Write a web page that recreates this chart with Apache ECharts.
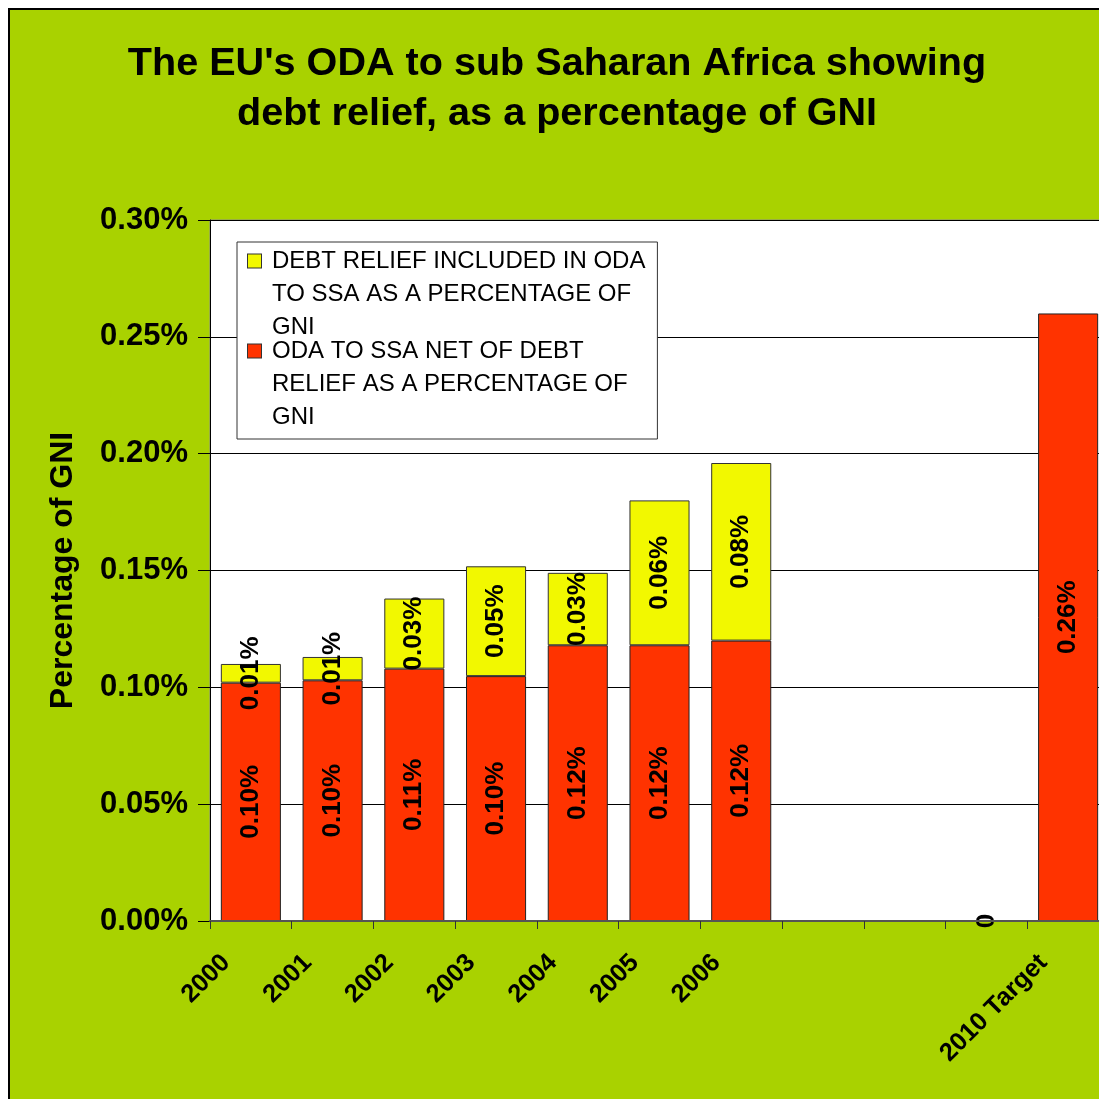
<!DOCTYPE html>
<html>
<head>
<meta charset="utf-8">
<script src="https://cdn.jsdelivr.net/npm/echarts@6/dist/echarts.min.js"></script>
<style>
html,body{margin:0;padding:0;background:#fff;}
#c{width:1099px;height:1099px;}
</style>
</head>
<body>
<div id="c"></div>
<script>
// ---- data ----
const categories = ['2000','2001','2002','2003','2004','2005','2006','','','','2010 Target'];
const odaNetOfDebt = [0.102, 0.103, 0.108, 0.1048, 0.118, 0.118, 0.120, null, null, 0, 0.260];
const debtRelief   = [0.008, 0.010, 0.030, 0.047, 0.031, 0.062, 0.076, null, null, null, null];
const yTicks = [0, 0.05, 0.10, 0.15, 0.20, 0.25, 0.30];
const titleText = "The EU's ODA to sub Saharan Africa showing\ndebt relief, as a percentage of GNI";
const yAxisTitle = 'Percentage of GNI';
const NAME_DEBT = 'DEBT RELIEF INCLUDED IN ODA TO SSA AS A PERCENTAGE OF GNI';
const NAME_NET = 'ODA TO SSA NET OF DEBT RELIEF AS A PERCENTAGE OF GNI';
const legendLines = {};
legendLines[NAME_DEBT] = ['DEBT RELIEF INCLUDED IN ODA', 'TO SSA AS A PERCENTAGE OF', 'GNI'];
legendLines[NAME_NET] = ['ODA TO SSA NET OF DEBT', 'RELIEF AS A PERCENTAGE OF', 'GNI'];

const FONT = '"Liberation Sans", Arial, sans-serif';
const GREEN = '#A9D200';
const RED = '#FF3300';
const YELLOW = '#F2F800';

function pct(v){ return v.toFixed(2) + '%'; }
function labelFmt(p){
  if (p.value === null || p.value === undefined || p.value === '-') return '';
  if (p.value === 0) return '0';
  return pct(p.value);
}

const chart = echarts.init(document.getElementById('c'), null, {renderer:'canvas'});
const option = {
  animation: false,
  backgroundColor: '#fff',
  graphic: [{
    type: 'rect', z: -10, silent: true,
    shape: {x: 9, y: 9, width: 1200, height: 1200},
    style: {fill: GREEN, stroke: '#000', lineWidth: 2}
  }],
  title: {
    text: titleText,
    left: 557, top: 39, textAlign: 'center',
    padding: 0,
    textStyle: {fontFamily: FONT, fontWeight: 'bold', fontSize: 39.6, lineHeight: 50, color: '#000'}
  },
  legend: {
    orient: 'vertical',
    left: 237, top: 242,
    padding: [7, 12, 10, 5],
    itemGap: 0,
    itemWidth: 0, itemHeight: 0,
    icon: 'rect',
    backgroundColor: '#fff',
    borderColor: '#333', borderWidth: 1,
    data: [NAME_DEBT, NAME_NET],
    formatter: function(name){
      const lines = legendLines[name];
      const m = name === NAME_DEBT ? 'my' : 'mr';
      return lines.map(function(l, i){
        return (i === 0 ? '{' + m + '| }{g| }' : '{s| }') + '{t|' + l + '}';
      }).join('\n');
    },
    textStyle: {
      fontFamily: FONT, fontSize: 24, color: '#000',
      rich: {
        my: {width: 13, height: 13, backgroundColor: YELLOW, borderColor: '#333', borderWidth: 1},
        mr: {width: 13, height: 13, backgroundColor: RED, borderColor: '#333', borderWidth: 1},
        g: {width: 11},
        s: {width: 24},
        t: {fontFamily: FONT, fontSize: 24, lineHeight: 33, color: '#000'}
      }
    }
  },
  grid: {
    left: 210, top: 220, width: 899, bottom: 178,
    outerBoundsMode: 'none',
    show: true, backgroundColor: '#fff', borderColor: '#888', borderWidth: 1,
    containLabel: false
  },
  xAxis: {
    type: 'category',
    data: categories,
    z: 3,
    axisLine: {lineStyle: {color: '#555', width: 2}},
    axisTick: {show: true, length: 8, lineStyle: {color: '#333'}},
    axisLabel: {
      interval: 0, rotate: 45, margin: 13, padding: [0, 35, 0, 0],
      fontFamily: FONT, fontWeight: 'bold', fontSize: 25.5, color: '#000'
    },
    splitLine: {show: false}
  },
  yAxis: {
    type: 'value',
    min: yTicks[0], max: yTicks[yTicks.length - 1], interval: 0.05,
    name: yAxisTitle,
    nameLocation: 'middle',
    nameGap: 131,
    nameTextStyle: {fontFamily: FONT, fontWeight: 'bold', fontSize: 32, color: '#000'},
    axisLine: {show: true, lineStyle: {color: '#000', width: 1}},
    axisTick: {show: true, length: 12, lineStyle: {color: '#000'}},
    axisLabel: {
      margin: 22,
      formatter: function(v){ return pct(v); },
      fontFamily: FONT, fontWeight: 'bold', fontSize: 31, color: '#000'
    },
    splitLine: {show: true, lineStyle: {color: '#000', width: 1}}
  },
  series: [
    {
      name: NAME_NET, type: 'bar', stack: 'total', barWidth: '73.5%',
      data: odaNetOfDebt,
      itemStyle: {color: RED, borderColor: '#222', borderWidth: 1},
      label: {show: true, position: 'inside', rotate: 90, formatter: labelFmt,
        fontFamily: FONT, fontWeight: 'bold', fontSize: 26, color: '#000'}
    },
    {
      name: NAME_DEBT, type: 'bar', stack: 'total', barWidth: '73.5%',
      data: debtRelief,
      itemStyle: {color: YELLOW, borderColor: '#333', borderWidth: 1},
      label: {show: true, position: 'inside', rotate: 90, formatter: labelFmt,
        fontFamily: FONT, fontWeight: 'bold', fontSize: 26, color: '#000'}
    }
  ]
};
chart.setOption(option);
</script>
</body>
</html>
